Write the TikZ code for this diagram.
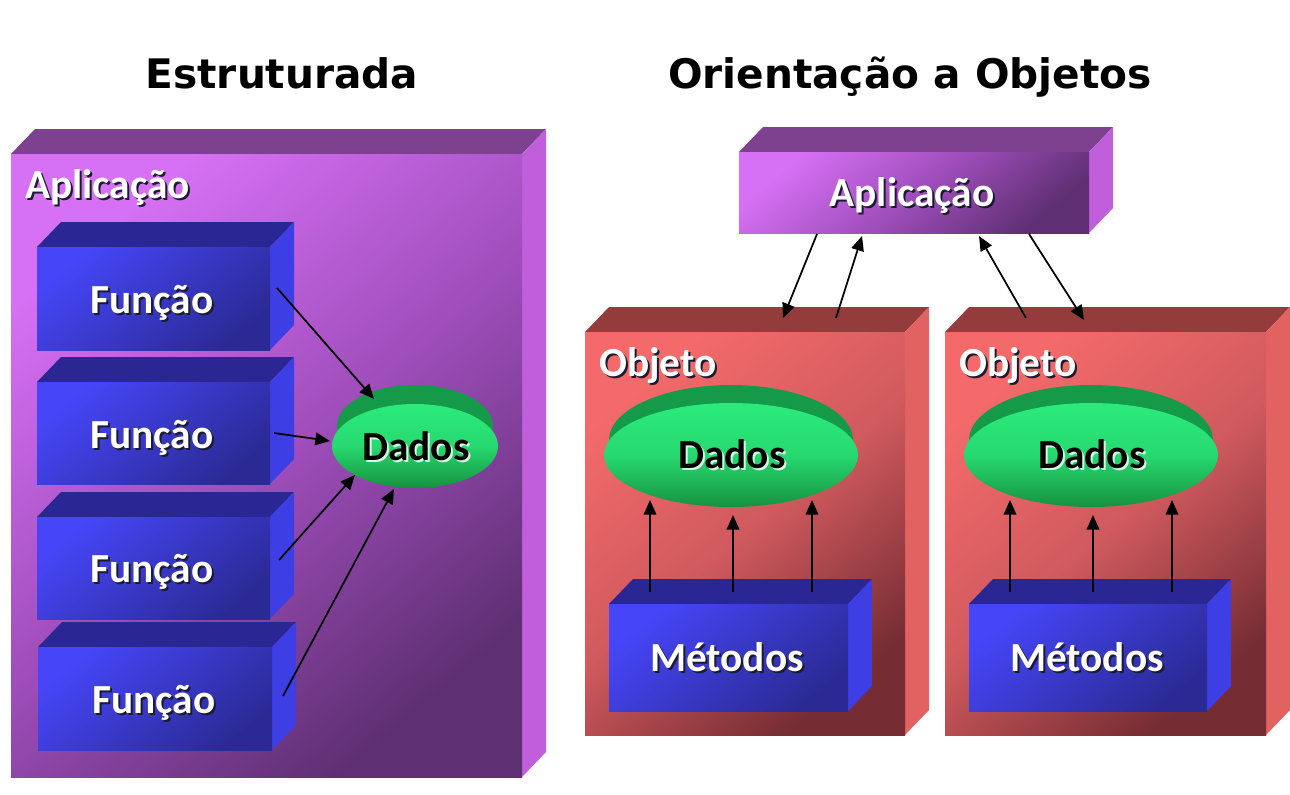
\documentclass[tikz,border=0pt]{standalone}
\usepackage{fontspec}
\setmainfont{DejaVu Sans}
\newfontfamily\lblfont{Carlito}
\usetikzlibrary{arrows.meta}
\definecolor{PurTop}{HTML}{7D4190}
\definecolor{PurSide}{HTML}{C05EDC}
\definecolor{PurLight}{HTML}{D670F4}
\definecolor{PurMid}{HTML}{A04EBC}
\definecolor{PurDark}{HTML}{5E2F72}
\definecolor{BluTop}{HTML}{2A2795}
\definecolor{BluSide}{HTML}{3E3EE5}
\definecolor{BluLight}{HTML}{4646F8}
\definecolor{BluDark}{HTML}{2B2A95}
\definecolor{RedTop}{HTML}{943C3C}
\definecolor{RedSide}{HTML}{E26262}
\definecolor{RedLight}{HTML}{F46A6A}
\definecolor{RedMid}{HTML}{D05A5E}
\definecolor{RedDark}{HTML}{752C33}
\definecolor{GrnDark}{HTML}{149A48}
\definecolor{GrnLight}{HTML}{2BEB7C}
\definecolor{GrnLow}{HTML}{16923F}
\definecolor{LabShadow}{HTML}{1A1A30}
\tikzset{
  ptop/.style={fill=PurTop},
  pside/.style={fill=PurSide},
  pfront/.style={top color=PurLight, bottom color=PurDark, middle color=PurMid, shading angle=40},
  btop/.style={fill=BluTop},
  bside/.style={fill=BluSide},
  bfront/.style={top color=BluLight, bottom color=BluDark, shading angle=40},
  rtop/.style={fill=RedTop},
  rside/.style={fill=RedSide},
  rfront/.style={top color=RedLight, bottom color=RedDark, middle color=RedMid, shading angle=40},
  gdark/.style={fill=GrnDark},
  glight/.style={top color=GrnLight, bottom color=GrnLow, middle color=GrnLight!80!GrnLow},
  lbl/.style={font={\lblfont\bfseries\fontsize{31}{33}\selectfont}, inner sep=0pt},
  ttl/.style={font={\bfseries\fontsize{30.5}{33}\selectfont}, inner sep=0pt, text=black, anchor=base},
  arr/.style={-{Triangle[length=11pt,width=9.5pt]}, line width=1.3pt, draw=black},
  arrs/.style={-{Triangle[length=11pt,width=9.5pt]}, line width=1.3pt, draw=black}
}
% x1 y1 x2 y2 style-prefix
\newcommand\cuboid[5]{%
  \fill[#5top] (#1,#2) -- (#1+24,#2-25) -- (#3+24,#2-25) -- (#3,#2) -- cycle;
  \fill[#5side] (#3,#2) -- (#3+24,#2-25) -- (#3+24,#4-25) -- (#3,#4) -- cycle;
  \path[#5front] (#1,#2) rectangle (#3,#4);
}
\newcommand\wlab[4]{%
  \node[#1, text=LabShadow, xshift=1.5pt, yshift=-1.5pt] at #3 {#4};
  \node[#1, text=white] (#2) at #3 {#4};}
\newcommand\blab[4]{%
  \node[#1, text=white!80!GrnLight, xshift=1.5pt, yshift=-1.5pt] at #3 {#4};
  \node[#1, text=black] (#2) at #3 {#4};}
\begin{document}
\begin{tikzpicture}[x=0.75pt,y=-0.75pt]
\fill[white] (0,0) rectangle (1290,794);
\useasboundingbox (0,0) rectangle (1290,794);

% titles
\node[ttl] (t1) at (282,88) {Estruturada};
\node[ttl] (t2) at (910,88) {Orientação a Objetos};

% ---------- left: Estruturada ----------
\cuboid{11}{154}{522}{777}{p}
\wlab{lbl, anchor=base west}{aplL}{(25,198)}{Aplicação}

\cuboid{37}{247}{270}{350}{b}
\cuboid{37}{382}{270}{484}{b}
\cuboid{37}{517}{270}{619}{b}
\cuboid{38}{647}{272}{750}{b}
\wlab{lbl, anchor=base}{f1}{(152,313)}{Função}
\wlab{lbl, anchor=base}{f2}{(152,448)}{Função}
\wlab{lbl, anchor=base}{f3}{(152,582)}{Função}
\wlab{lbl, anchor=base}{f4}{(154,713)}{Função}

\fill[gdark] (415,426) ellipse [x radius=58.5pt, y radius=30.75pt];
\path[glight] (415,446) ellipse [x radius=62.25pt, y radius=31.5pt];
\blab{lbl, anchor=base}{dL}{(416,460)}{Dados}

\coordinate (a1s) at (277,288); \coordinate (a1e) at (374,399);
\coordinate (a2s) at (274,433); \coordinate (a2e) at (330,441);
\coordinate (a3s) at (279,560); \coordinate (a3e) at (355,475);
\coordinate (a4s) at (283,696); \coordinate (a4e) at (394,489);
\draw[arr] (a1s) -- (a1e);
\draw[arr] (a2s) -- (a2e);
\draw[arr] (a3s) -- (a3e);
\draw[arr] (a4s) -- (a4e);

% ---------- right: Orientacao a Objetos ----------
\cuboid{739}{152}{1089}{233}{p}
\wlab{lbl, anchor=base}{aplR}{(912,206)}{Aplicação}

\cuboid{585}{332}{905}{735}{r}
\cuboid{945}{332}{1266}{735}{r}
\wlab{lbl, anchor=base west}{o1}{(599,376)}{Objeto}
\wlab{lbl, anchor=base west}{o2}{(959,376)}{Objeto}

\fill[gdark] (731,440) ellipse [x radius=91.5pt, y radius=41.25pt];
\path[glight] (731,455) ellipse [x radius=95.25pt, y radius=39pt];
\fill[gdark] (1091,440) ellipse [x radius=91.5pt, y radius=41.25pt];
\path[glight] (1091,455) ellipse [x radius=95.25pt, y radius=39pt];
\blab{lbl, anchor=base}{d1}{(732,468)}{Dados}
\blab{lbl, anchor=base}{d2}{(1092,468)}{Dados}

\cuboid{609}{604}{848}{711}{b}
\cuboid{969}{604}{1207}{711}{b}
\wlab{lbl, anchor=base}{m1}{(727,671)}{Métodos}
\wlab{lbl, anchor=base}{m2}{(1087,671)}{Métodos}

% arrows Aplicacao <-> Objetos
\coordinate (b1s) at (817,234); \coordinate (b1e) at (783,318);
\coordinate (b2s) at (836,318); \coordinate (b2e) at (862,236);
\coordinate (b3s) at (1026,318); \coordinate (b3e) at (979,236);
\coordinate (b4s) at (1029,234); \coordinate (b4e) at (1084,320);
\draw[arrs] (b1s) -- (b1e);
\draw[arrs] (b2s) -- (b2e);
\draw[arrs] (b3s) -- (b3e);
\draw[arrs] (b4s) -- (b4e);

% arrows Metodos -> Dados
\foreach \x/\t [count=\i] in {650/500,733/515,812/500}{
  \coordinate (ms\i) at (\x,592); \coordinate (me\i) at (\x,\t);
  \draw[arrs] (ms\i) -- (me\i);
}
\foreach \x/\t [count=\i] in {1010/500,1093/515,1172/500}{
  \coordinate (ns\i) at (\x,592); \coordinate (ne\i) at (\x,\t);
  \draw[arrs] (ns\i) -- (ne\i);
}
\end{tikzpicture}
\end{document}
